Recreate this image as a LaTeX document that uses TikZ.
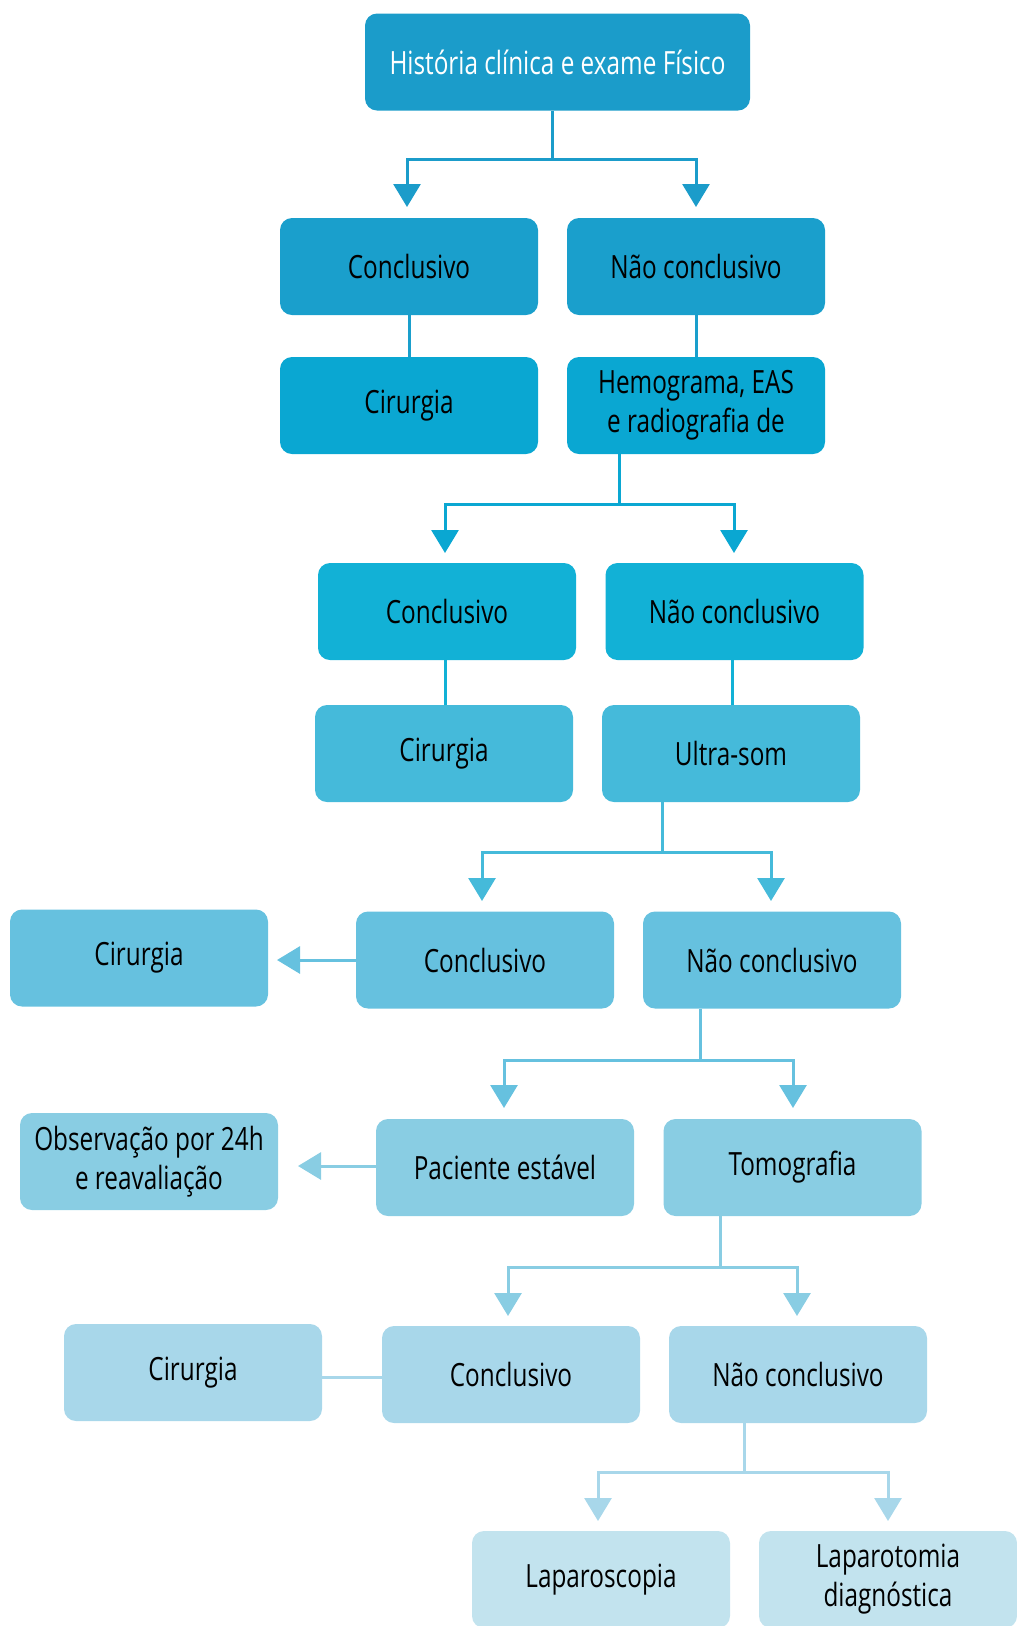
\documentclass[tikz,border=0pt]{standalone}
\usepackage{fontspec}
\setmainfont[FakeStretch=0.76]{Open Sans}
\usetikzlibrary{arrows.meta}
\definecolor{cA}{HTML}{1B9CCA}
\definecolor{cB}{HTML}{1A9FCC}
\definecolor{cC}{HTML}{0AA7D2}
\definecolor{cD}{HTML}{12B1D6}
\definecolor{cE}{HTML}{45BADA}
\definecolor{cF}{HTML}{66C1DF}
\definecolor{cG}{HTML}{89CDE3}
\definecolor{cH}{HTML}{A8D7EA}
\definecolor{cI}{HTML}{C2E3EE}
\tikzset{
  box/.style={rectangle, rounded corners=12pt, minimum width=258pt, minimum height=97pt,
    inner sep=2pt, align=center, font=\fontsize{32}{39}\selectfont, text=black},
  conn/.style={line width=3pt},
  arr/.style={conn, -{Triangle[width=27pt,length=23pt]}},
}
\begin{document}
\begin{tikzpicture}[x=1pt,y=-1pt]
\useasboundingbox (0,0) rectangle (1017,1626);
% boxes
\node[box, fill=cA, text=white, minimum width=385pt] (top) at (557.5,62) {História clínica e exame Físico};
\node[box, fill=cB] (c2) at (409,266.5) {Conclusivo};
\node[box, fill=cB] (n2) at (696,266.5) {Não conclusivo};
\node[box, fill=cC] (cir3) at (409,405.5) {Cirurgia};
\node[box, fill=cC] (hem) at (696,405.5) {Hemograma, EAS\\e radiografia de};
\node[box, fill=cD] (c4) at (447,611.5) {Conclusivo};
\node[box, fill=cD] (n4) at (734.5,611.5) {Não conclusivo};
\node[box, fill=cE] (cir5) at (444,753.5) {Cirurgia};
\node[box, fill=cE] (us) at (731,753.5) {Ultra-som};
\node[box, fill=cF] (cir6) at (139,958) {Cirurgia};
\node[box, fill=cF] (c6) at (485,960) {Conclusivo};
\node[box, fill=cF] (n6) at (772,960) {Não conclusivo};
\node[box, fill=cG] (obs) at (149,1161.5) {Observação por 24h\\e reavaliação};
\node[box, fill=cG] (pac) at (505,1167.5) {Paciente estável};
\node[box, fill=cG] (tom) at (792.5,1167.5) {Tomografia};
\node[box, fill=cH] (cir8) at (193,1372.5) {Cirurgia};
\node[box, fill=cH] (c8) at (511,1374.5) {Conclusivo};
\node[box, fill=cH] (n8) at (798,1374.5) {Não conclusivo};
\node[box, fill=cI] (lap1) at (601,1579.5) {Laparoscopia};
\node[box, fill=cI] (lap2) at (888,1579.5) {Laparotomia\\diagnóstica};
% fork 1
\coordinate (j1) at (552,159);
\coordinate (a1l) at (407,207);
\coordinate (a1r) at (696,207);
\draw[conn, cA] (top.south -| j1) -- (j1);
\draw[arr, cA] (j1) -| (a1l);
\draw[arr, cA] (j1) -| (a1r);
\draw[conn, cB] (c2.south) -- (cir3.north);
\draw[conn, cB] (n2.south) -- (hem.north);
% fork 2
\coordinate (j2) at (619,504);
\coordinate (a2l) at (445,553);
\coordinate (a2r) at (734,553);
\draw[conn, cC] (hem.south -| j2) -- (j2);
\draw[arr, cC] (j2) -| (a2l);
\draw[arr, cC] (j2) -| (a2r);
\draw[conn, cD] (c4.south -| 445,0) -- (cir5.north -| 445,0);
\draw[conn, cD] (n4.south -| 732,0) -- (us.north -| 732,0);
% fork 3
\coordinate (j3) at (662,852);
\coordinate (a3l) at (482,901);
\coordinate (a3r) at (771,901);
\draw[conn, cE] (us.south -| j3) -- (j3);
\draw[arr, cE] (j3) -| (a3l);
\draw[arr, cE] (j3) -| (a3r);
\coordinate (t6) at (277,960);
\draw[arr, cF] (c6.west) -- (t6);
% fork 4
\coordinate (j4) at (700,1060);
\coordinate (a4l) at (504,1108);
\coordinate (a4r) at (793,1108);
\draw[conn, cF] (n6.south -| j4) -- (j4);
\draw[arr, cF] (j4) -| (a4l);
\draw[arr, cF] (j4) -| (a4r);
\coordinate (t7) at (298,1166);
\draw[arr, cG] (pac.west |- t7) -- (t7);
% fork 5
\coordinate (j5) at (720,1267);
\coordinate (a5l) at (508,1316);
\coordinate (a5r) at (797,1316);
\draw[conn, cG] (tom.south -| j5) -- (j5);
\draw[arr, cG] (j5) -| (a5l);
\draw[arr, cG] (j5) -| (a5r);
\draw[conn, cH] (c8.west |- 0,1377) -- (cir8.east |- 0,1377);
% fork 6
\coordinate (j6) at (744,1472);
\coordinate (a6l) at (598,1521);
\coordinate (a6r) at (888,1521);
\draw[conn, cH] (n8.south -| j6) -- (j6);
\draw[arr, cH] (j6) -| (a6l);
\draw[arr, cH] (j6) -| (a6r);
\end{tikzpicture}
\end{document}
